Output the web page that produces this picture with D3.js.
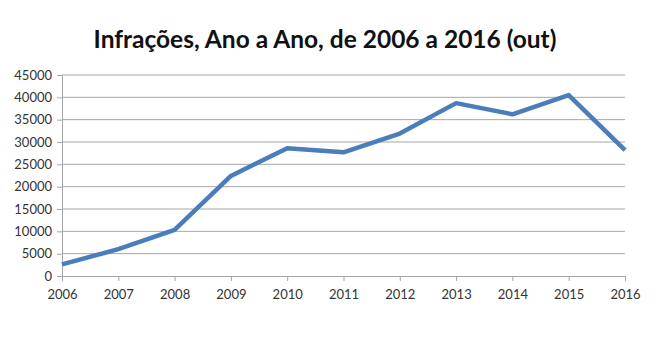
<!DOCTYPE html>
<html>
<head>
<meta charset="utf-8">
<script src="https://cdn.jsdelivr.net/npm/d3@7.9.0/dist/d3.min.js"></script>
<style>
  body { margin: 0; background: #fff; }
  text { font-family: Lato, "Open Sans", sans-serif; }
</style>
</head>
<body>
<svg id="chart" width="660" height="343"></svg>
<script>
const years = [2006, 2007, 2008, 2009, 2010, 2011, 2012, 2013, 2014, 2015, 2016];
const infracoes = [2600, 6000, 10300, 22400, 28600, 27700, 31900, 38700, 36200, 40500, 28200];
const yTicks = [0, 5000, 10000, 15000, 20000, 25000, 30000, 35000, 40000, 45000];
const title = 'Infrações, Ano a Ano, de 2006 a 2016 (out)';

const svg = d3.select('#chart');
const margin = { left: 62, right: 35, top: 75, bottom: 67 };
const width = 660, height = 343;

const x = d3.scalePoint()
  .domain(years)
  .range([margin.left, width - margin.right]);

const y = d3.scaleLinear()
  .domain([0, 45000])
  .range([height - margin.bottom, margin.top]);

// title
svg.append('text')
  .attr('x', 325)
  .attr('y', 48)
  .attr('text-anchor', 'middle')
  .attr('font-size', 24.5)
  .attr('font-weight', 'bold')
  .attr('fill', '#111')
  .text(title);

// gridlines
svg.append('g')
  .selectAll('line')
  .data(yTicks.slice(1))
  .join('line')
  .attr('x1', margin.left)
  .attr('x2', width - margin.right)
  .attr('y1', (d) => y(d))
  .attr('y2', (d) => y(d))
  .attr('stroke', '#a6a6a6')
  .attr('stroke-width', 1);

// y axis
const yAxis = svg.append('g')
  .attr('transform', `translate(${margin.left},0)`)
  .call(d3.axisLeft(y).tickValues(yTicks).tickSize(5).tickPadding(5).tickFormat(d3.format('d')));
yAxis.select('.domain').attr('stroke', '#a6a6a6');
yAxis.selectAll('.tick line').attr('stroke', '#a6a6a6');
yAxis.selectAll('text').attr('font-size', 13).attr('fill', '#333')
  .style('font-family', 'Lato, "Open Sans", sans-serif');

// x axis
const xAxis = svg.append('g')
  .attr('transform', `translate(0,${y(0)})`)
  .call(d3.axisBottom(x).tickSize(5).tickPadding(9).tickSizeOuter(0));
xAxis.select('.domain').attr('stroke', '#a6a6a6');
xAxis.selectAll('.tick line').attr('stroke', '#a6a6a6');
xAxis.selectAll('text').attr('font-size', 13).attr('fill', '#333')
  .style('font-family', 'Lato, "Open Sans", sans-serif');

// line
const line = d3.line()
  .x((d, i) => x(years[i]))
  .y((d) => y(d));

svg.append('path')
  .datum(infracoes)
  .attr('d', line)
  .attr('fill', 'none')
  .attr('stroke', '#4a7ebb')
  .attr('stroke-width', 4.5)
  .attr('stroke-linejoin', 'round')
  .attr('stroke-linecap', 'butt');
</script>
</body>
</html>
